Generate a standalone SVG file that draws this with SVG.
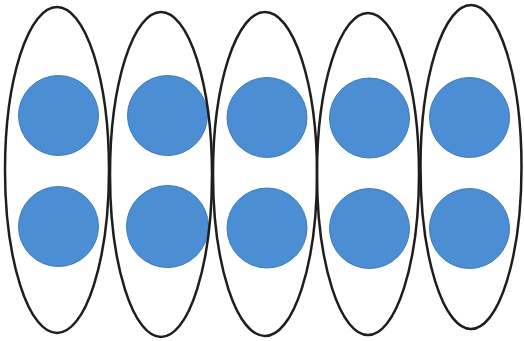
<svg xmlns="http://www.w3.org/2000/svg" width="524" height="341" viewBox="0 0 524 341">
<style>
.dot{fill:#4b8ed4;stroke:#4079b8;stroke-width:1}
.pod{fill:none;stroke:#1e1e1e;stroke-width:2.5}
</style>
<rect width="524" height="341" fill="#ffffff"/>
<g id="connectors"/>
<g id="node1">
<circle class="dot" cx="58.5" cy="115.5" r="40"/>
<circle class="dot" cx="58.5" cy="226.5" r="40"/>
<ellipse class="pod" cx="57" cy="170" rx="52" ry="163"/>
</g>
<g id="node2">
<circle class="dot" cx="167.5" cy="115.5" r="40"/>
<circle class="dot" cx="167.5" cy="226.5" r="41"/>
<ellipse class="pod" cx="161" cy="174.5" rx="51" ry="162.5"/>
</g>
<g id="node3">
<circle class="dot" cx="267" cy="117.5" r="40"/>
<circle class="dot" cx="267" cy="228" r="40"/>
<ellipse class="pod" cx="265" cy="174" rx="52" ry="162"/>
</g>
<g id="node4">
<circle class="dot" cx="369.5" cy="118" r="40"/>
<circle class="dot" cx="369.5" cy="228.5" r="40"/>
<ellipse class="pod" cx="368" cy="174" rx="51" ry="161"/>
</g>
<g id="node5">
<circle class="dot" cx="469.5" cy="117.5" r="40"/>
<circle class="dot" cx="469.5" cy="228.5" r="40"/>
<ellipse class="pod" cx="471" cy="167" rx="50.5" ry="162"/>
</g>
</svg>
